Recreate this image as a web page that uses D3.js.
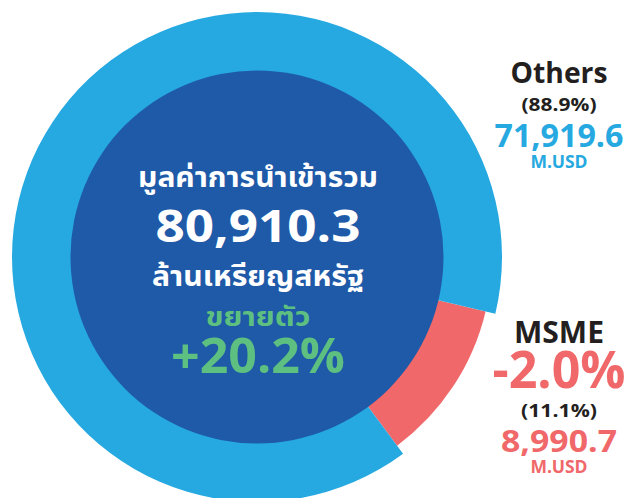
<!DOCTYPE html>
<html>
<head>
<meta charset="utf-8">
<script src="https://cdn.jsdelivr.net/npm/d3@7/dist/d3.min.js"></script>
<style>
  html, body { margin: 0; padding: 0; background: #fff; }
  svg { display: block; }
  text { font-family: "Noto Sans Thai", "Noto Sans", Roboto, sans-serif; font-weight: 700; }
</style>
</head>
<body>
<svg id="chart" width="630" height="498"></svg>
<script>
// data
const segments = ["MSME", "Others"];
const values = [8990.7, 71919.6];
const shares = ["(11.1%)", "(88.9%)"];
const growth = ["-2.0%", ""];
const totalLabel = "มูลค่าการนำเข้ารวม";
const totalValue = "80,910.3";
const totalUnit = "ล้านเหรียญสหรัฐ";
const growthLabel = "ขยายตัว";
const totalGrowth = "+20.2%";
const unit = "M.USD";

const svg = d3.select("#chart");
const cx = 257, cy = 257;

const color = d3.scaleOrdinal().domain(segments).range(["#f0686a", "#26a9e0"]);
const outer = d3.scaleOrdinal().domain(segments).range([235, 245]);

// MSME slice sits at lower right, centred ~33deg below 3 o'clock
const mid = (90 + 33.4) * Math.PI / 180;
const msmeSpan = values[0] / d3.sum(values) * 2 * Math.PI;
const start = mid - msmeSpan / 2;

const pie = d3.pie().sort(null).startAngle(start).endAngle(start + 2 * Math.PI);
const arcs = pie(values).map((a, i) => ({ ...a, key: segments[i] }));

const g = svg.append("g").attr("transform", `translate(${cx},${cy})`);

g.selectAll("path.slice").data(arcs).enter().append("path")
  .attr("class", "slice")
  .attr("fill", d => color(d.key))
  .attr("d", d => d3.arc().innerRadius(170).outerRadius(outer(d.key))(d));

g.append("circle").attr("r", 186.5).attr("fill", "#1f5aa8");

// centre text
const centre = [
  { t: totalLabel, y: 187, size: 28, fill: "#ffffff", w: 240 },
  { t: totalValue, y: 241.5, size: 44, fill: "#ffffff", w: 205 },
  { t: totalUnit, y: 285.5, size: 28, fill: "#ffffff", w: 212 },
  { t: growthLabel, y: 326, size: 27, fill: "#5dbf80", w: 105 },
  { t: totalGrowth, y: 373, size: 49, fill: "#5dbf80", w: 174 }
];
g.selectAll("text.centre").data(centre).enter().append("text")
  .attr("class", "centre")
  .attr("x", 1).attr("y", d => d.y - cy)
  .attr("text-anchor", "middle")
  .attr("font-size", d => d.size)
  .attr("fill", d => d.fill)
  .attr("textLength", d => d.w)
  .attr("lengthAdjust", "spacingAndGlyphs")
  .text(d => d.t);

// side labels
const ink = "#231f20";
const fmt = d3.format(",.1f");
const side = [
  { t: segments[1], y: 83.3, size: 28, fill: ink, w: 97 },
  { t: shares[1], y: 110.7, size: 18, fill: ink, w: 75 },
  { t: fmt(values[1]), y: 146.7, size: 32, fill: color("Others"), w: 129 },
  { t: unit, y: 168.3, size: 17, fill: color("Others"), w: 57 },
  { t: segments[0], y: 343.3, size: 30, fill: ink, w: 90 },
  { t: growth[0], y: 388.3, size: 52, fill: color("MSME"), w: 133 },
  { t: shares[0], y: 416.7, size: 18, fill: ink, w: 76 },
  { t: fmt(values[0]), y: 451.7, size: 30, fill: color("MSME"), w: 116 },
  { t: unit, y: 473.3, size: 17, fill: color("MSME"), w: 57 }
];
svg.selectAll("text.side").data(side).enter().append("text")
  .attr("class", "side")
  .attr("x", 559).attr("y", d => d.y)
  .attr("text-anchor", "middle")
  .attr("font-size", d => d.size)
  .attr("fill", d => d.fill)
  .attr("textLength", d => d.w)
  .attr("lengthAdjust", "spacingAndGlyphs")
  .text(d => d.t);
</script>
</body>
</html>
